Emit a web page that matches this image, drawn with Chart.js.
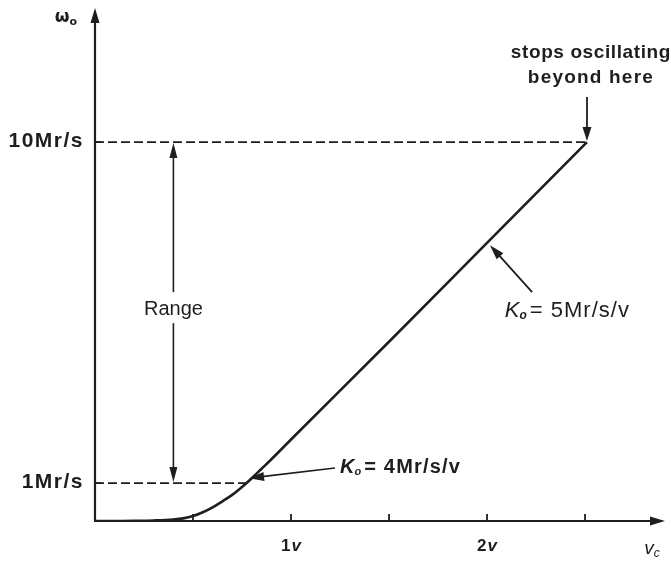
<!DOCTYPE html>
<html><head><meta charset="utf-8">
<script src="https://cdn.jsdelivr.net/npm/chart.js@4/dist/chart.umd.min.js"></script>
<style>html,body{margin:0;padding:0;background:#fff}#wrap{width:671px;height:564px;position:relative}</style>
</head><body><div id="wrap"><canvas id="c"></canvas></div>
<script>
// control voltage (V) and oscillator frequency (Mr/s)
const vc = [0, 0.1, 0.2, 0.3, 0.4, 0.45, 0.5, 0.55, 0.6, 0.65, 0.7, 0.75, 0.8, 0.85, 0.9, 1.0, 1.5, 2.0, 2.51];
const wo = [0, 0, 0.005, 0.015, 0.04, 0.07, 0.13, 0.23, 0.36, 0.52, 0.69, 0.9, 1.13, 1.38, 1.63, 2.15, 4.73, 7.34, 10];
// axis ticks
const xTickVals = [0.5, 1, 1.5, 2, 2.5];
const xTickLabels = ['', '1', '', '2', ''];
const yTickVals = [1, 10];
const yTickLabels = ['1Mr/s', '10Mr/s'];
// range limits
const rangeLow = 1, rangeHigh = 10;
const rangeLowEnd = 0.78;   // where the 1 Mr/s dashed guide meets the curve
const rangeHighEnd = 2.51;  // where oscillation stops

const ink = '#1e1e1e';
const guide = (y, x1) => [{x: 0, y: y}, {x: x1, y: y}];

function arrowHead(ctx, x1, y1, x2, y2, len, half) {
  const a = Math.atan2(y2 - y1, x2 - x1);
  ctx.beginPath();
  ctx.moveTo(x2, y2);
  ctx.lineTo(x2 - len * Math.cos(a) + half * Math.sin(a), y2 - len * Math.sin(a) - half * Math.cos(a));
  ctx.lineTo(x2 - len * Math.cos(a) - half * Math.sin(a), y2 - len * Math.sin(a) + half * Math.cos(a));
  ctx.closePath();
  ctx.fill();
}
function arrow(ctx, x1, y1, x2, y2, w, len, half) {
  ctx.lineWidth = w;
  const a = Math.atan2(y2 - y1, x2 - x1);
  ctx.beginPath(); ctx.moveTo(x1, y1); ctx.lineTo(x2 - (len - 2) * Math.cos(a), y2 - (len - 2) * Math.sin(a)); ctx.stroke();
  arrowHead(ctx, x1, y1, x2, y2, len, half);
}
// rich text: parts [{t, f, dy, gap, ls}]
function rich(ctx, parts, x, y, align) {
  let w = 0;
  const meas = p => { ctx.font = p.f; ctx.letterSpacing = p.ls || '0px'; return ctx.measureText(p.t).width + (p.gap || 0); };
  parts.forEach(p => { w += meas(p); });
  let cx = align === 'center' ? x - w / 2 : align === 'right' ? x - w : x;
  ctx.textAlign = 'left'; ctx.textBaseline = 'middle';
  parts.forEach(p => { const pw = meas(p); ctx.fillText(p.t, cx, y + (p.dy || 0)); cx += pw; });
  ctx.letterSpacing = '0px';
}

const deco = {
  id: 'deco',
  afterDatasetsDraw(chart) {
    const ctx = chart.ctx, xs = chart.scales.x, ys = chart.scales.y;
    const X = v => xs.getPixelForValue(v), Y = v => ys.getPixelForValue(v);
    const X0 = X(0), Y0 = Y(0), ca = chart.chartArea;
    ctx.save();
    ctx.strokeStyle = ink; ctx.fillStyle = ink; ctx.lineCap = 'butt';
    // axes
    arrow(ctx, X0, Y0 + 1, X0, ca.top, 2.2, 15, 4.5);
    arrow(ctx, X0 - 1, Y0, ca.right, Y0, 2.2, 15, 4.5);
    // x ticks
    ctx.lineWidth = 1.8;
    xTickVals.forEach((v, i) => {
      const px = X(v);
      ctx.beginPath(); ctx.moveTo(px, Y0); ctx.lineTo(px, Y0 - 7); ctx.stroke();
      if (xTickLabels[i]) rich(ctx, [{t: xTickLabels[i], f: 'bold 17px "Liberation Sans"', gap: 1}, {t: 'v', f: 'italic bold 17px "Liberation Sans"'}], px, Y0 + 25, 'center');
    });
    // y tick labels
    yTickVals.forEach((v, i) => {
      const py = Y(v);
      ctx.lineWidth = 1.8;
      ctx.beginPath(); ctx.moveTo(X0, py); ctx.lineTo(X0 + 6, py); ctx.stroke();
      rich(ctx, [{t: yTickLabels[i], f: 'bold 21px "Liberation Sans"', ls: '1.5px'}], X0 - 11, py - 1, 'right');
    });
    // axis titles
    rich(ctx, [{t: 'ω', f: 'bold 17px "DejaVu Sans"'}, {t: 'o', f: 'bold 11px "DejaVu Sans"', dy: 4}], X0 - 29, 18, 'center');
    rich(ctx, [{t: 'v', f: 'italic 19px "Liberation Sans"'}, {t: 'c', f: 'italic 12px "Liberation Sans"', dy: 5}], 652, Y0 + 28, 'center');
    // Range double arrow
    const rx = X(0.40);
    const gapTop = Y(6.04), gapBot = Y(5.22);
    arrow(ctx, rx, gapTop, rx, Y(rangeHigh) + 1, 1.6, 15, 4);
    arrow(ctx, rx, gapBot, rx, Y(rangeLow) - 1, 1.6, 15, 4);
    ctx.font = '20px "Liberation Sans"'; ctx.textAlign = 'center'; ctx.textBaseline = 'middle';
    ctx.fillText('Range', rx, (gapTop + gapBot) / 2 + 2);
    // stop note
    arrow(ctx, X(rangeHighEnd), Y(11.19), X(rangeHighEnd), Y(10.0) - 1, 1.8, 14, 4.5);
    rich(ctx, [{t: 'stops oscillating', f: 'bold 19px "Liberation Sans"', ls: '0.6px'}], X(2.53), Y(12.37), 'center');
    rich(ctx, [{t: 'beyond here', f: 'bold 19px "Liberation Sans"', ls: '1.2px'}], X(2.53), Y(11.69), 'center');
    // K_o = 5 note
    arrow(ctx, X(2.23), Y(6.04), X(2.015), Y(7.28), 1.8, 15, 4.5);
    rich(ctx, [{t: 'K', f: 'italic 22px "Liberation Sans"'}, {t: 'o', f: 'italic bold 12px "Liberation Sans"', dy: 5, gap: 3}, {t: '= 5Mr/s/v', f: '22px "Liberation Sans"', ls: '1px'}], X(2.41), Y(5.54), 'center');
    // K_o = 4 note
    arrow(ctx, X(1.224), Y(1.40), X(0.786), Y(1.13), 1.6, 15, 4.5);
    rich(ctx, [{t: 'K', f: 'italic bold 20px "Liberation Sans"'}, {t: 'o', f: 'italic bold 11px "Liberation Sans"', dy: 5, gap: 3}, {t: '= 4Mr/s/v', f: 'bold 20px "Liberation Sans"', ls: '1.2px'}], X(1.25), Y(1.42), 'left');
    ctx.restore();
  }
};

new Chart(document.getElementById('c'), {
  type: 'scatter',
  data: {
    datasets: [
      {data: vc.map((v, i) => ({x: v, y: wo[i]})), showLine: true, borderColor: ink, borderWidth: 2.6, pointRadius: 0, cubicInterpolationMode: 'monotone', fill: false},
      {data: guide(rangeHigh, rangeHighEnd), showLine: true, borderColor: ink, borderWidth: 1.6, borderDash: [9, 4], pointRadius: 0},
      {data: guide(rangeLow, rangeLowEnd), showLine: true, borderColor: ink, borderWidth: 1.6, borderDash: [9, 4], pointRadius: 0}
    ]
  },
  options: {
    responsive: true, maintainAspectRatio: false, animation: false,
    layout: {padding: {left: 95, right: 6, top: 8, bottom: 43}},
    plugins: {legend: {display: false}, tooltip: {enabled: false}},
    scales: {
      x: {type: 'linear', min: 0, max: 2.908, display: false},
      y: {type: 'linear', min: 0, max: 13.54, display: false}
    }
  },
  plugins: [deco]
});
</script></body></html>
